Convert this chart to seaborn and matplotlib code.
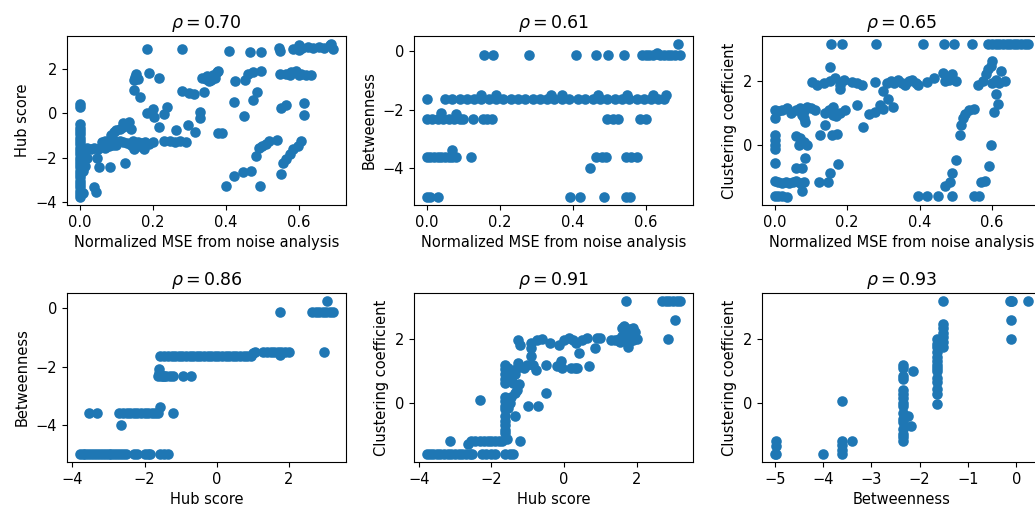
import matplotlib
matplotlib.use("Agg")
import matplotlib.pyplot as plt
from matplotlib.ticker import MultipleLocator
import seaborn as sns

# ---------------- data ----------------
mse_label = "Normalized MSE from noise analysis"
titles = ["0.70", "0.61", "0.65", "0.86", "0.91", "0.93"]

# Panel 1: MSE vs Hub score
p1_x = [0, 0, 0, 0, 0, 0, 0, 0, 0, 0, 0, 0, 0, 0, 0, 0, 0, 0, 0, 0, 0, 0, 0, 0, 0,
        0.008, 0.008, 0.01, 0.012, 0.04, 0.045, 0.02, 0.048, 0.053, 0.082, 0.015,
        0.01, 0.02, 0.03, 0.04, 0.05, 0.06, 0.07, 0.08, 0.09, 0.10,
        0.06, 0.07, 0.08, 0.09, 0.10, 0.11, 0.12,
        0.085, 0.095, 0.10, 0.11, 0.12, 0.13, 0.12, 0.135, 0.14, 0.124,
        0.13, 0.14, 0.15, 0.16, 0.17, 0.18, 0.19, 0.20, 0.16, 0.175, 0.145,
        0.148, 0.166, 0.15, 0.152, 0.155, 0.16, 0.185, 0.189, 0.216,
        0.185, 0.20, 0.205, 0.216, 0.23, 0.24,
        0.23, 0.248, 0.26, 0.275, 0.29, 0.264, 0.28,
        0.28, 0.30, 0.312, 0.34, 0.298, 0.317, 0.33, 0.33,
        0.335, 0.345, 0.35, 0.36, 0.365, 0.37, 0.375, 0.355, 0.38,
        0.38, 0.39, 0.41, 0.423, 0.425, 0.40, 0.423, 0.448, 0.47,
        0.452, 0.46, 0.475, 0.498, 0.45, 0.475, 0.486, 0.468, 0.498,
        0.482, 0.49, 0.50, 0.51, 0.52, 0.54, 0.494, 0.546, 0.548,
        0.548, 0.566, 0.58, 0.593, 0.607, 0.62, 0.634, 0.575, 0.60,
        0.553, 0.557, 0.566, 0.575, 0.585, 0.598, 0.607, 0.553, 0.566, 0.616, 0.616,
        0.585, 0.60, 0.61, 0.625, 0.64, 0.655, 0.67, 0.685, 0.695, 0.69, 0.60]
p1_y = [-3.8, -3.65, -3.5, -3.35, -3.2, -3.05, -2.9, -2.75, -2.6, -2.45, -2.3, -2.15, -2.0,
        -1.85, -1.7, -1.55, -1.4, -1.25, -1.1, -0.95, -0.8, -0.65, -0.5, 0.3, 0.42,
        -3.6, -2.6, -2.2, -1.9, -3.35, -3.55, -2.0, -2.0, -2.45, -2.45, -2.4,
        -1.6, -1.55, -1.6, -1.55, -1.6, -1.5, -1.55, -1.5, -1.45, -1.45,
        -1.3, -1.25, -1.3, -1.2, -1.3, -1.25, -1.3,
        -1.0, -0.85, -0.75, -0.7, -0.6, -0.55, -0.45, -0.4, -0.7, -2.27,
        -1.35, -1.45, -1.6, -1.5, -1.35, -1.3, -1.4, -1.3, -1.3, -1.6, -1.25,
        1.04, 0.74, 1.5, 1.65, 1.8, 1.55, 2.9, 1.82, 1.59,
        0.0, 0.2, -0.15, -0.62, -0.05, 0.3,
        -1.27, -1.27, -1.3, -1.27, -1.3, -0.74, 2.9,
        1.0, 0.9, 0.88, 0.95, -0.52, -0.85, 0.05, -0.22,
        1.6, 1.55, 1.7, 1.5, 1.75, 1.6, 1.85, 1.45, 1.9,
        -0.88, -0.88, 2.82, 0.52, 1.46, -3.27, -2.85, -2.67, -2.63,
        1.49, 1.78, 1.86, 1.93, -0.1, 0.6, 0.97, 2.78, 2.78,
        -1.93, -1.56, -1.5, -1.41, -1.26, -1.2, -3.31, 2.97, 2.82,
        1.78, 1.78, 1.86, 1.93, 1.78, 1.72, 1.72, 1.75, 1.75,
        -2.75, -2.23, -2.08, -1.86, -1.63, -1.49, -1.26, 0.22, 0.37, 0.45, -0.07,
        2.9, 3.1, 2.95, 3.0, 2.95, 3.0, 2.95, 3.1, 2.9, 3.15, 2.85]

# Panel 2: MSE vs Betweenness
p2_x = [0.156, 0.183, 0.28, 0.409, 0.463, 0.496, 0.54, 0.59, 0.60, 0.61, 0.62, 0.63, 0.64,
        0.65, 0.66, 0.67, 0.68, 0.695, 0.63, 0.69,
        0.0, 0.05, 0.07, 0.09, 0.11, 0.13, 0.15, 0.17, 0.19, 0.21, 0.23, 0.25, 0.27, 0.29,
        0.31, 0.33, 0.35, 0.37, 0.39, 0.415, 0.435, 0.455, 0.475, 0.495, 0.515, 0.535,
        0.555, 0.575, 0.595, 0.615, 0.635, 0.65,
        0.15, 0.19, 0.34, 0.37, 0.47, 0.55, 0.62, 0.655,
        0.0, 0.015, 0.03, 0.045, 0.06, 0.075, 0.09, 0.10, 0.126, 0.153, 0.165, 0.18,
        0.495, 0.51, 0.525, 0.585, 0.60, 0.04, 0.08,
        0.0, 0.01, 0.02, 0.03, 0.04, 0.05, 0.06, 0.07, 0.08, 0.07, 0.122,
        0.465, 0.48, 0.49, 0.545, 0.56, 0.575, 0.447,
        0.0, 0.008, 0.032, 0.393, 0.42, 0.487, 0.546, 0.558]
p2_y = [-0.13, -0.13, -0.13, -0.13, -0.13, -0.13, -0.13, -0.13, -0.13, -0.13, -0.13, -0.1,
        -0.13, -0.13, -0.13, -0.13, -0.13, -0.13, -0.08, 0.25,
        -1.63, -1.63, -1.63, -1.63, -1.63, -1.63, -1.63, -1.63, -1.63, -1.63, -1.63, -1.63,
        -1.63, -1.63, -1.63, -1.63, -1.63, -1.63, -1.63, -1.63, -1.63, -1.63, -1.63, -1.63,
        -1.63, -1.63, -1.63, -1.63, -1.63, -1.63, -1.63, -1.63,
        -1.5, -1.5, -1.5, -1.5, -1.5, -1.5, -1.5, -1.5,
        -2.33, -2.33, -2.33, -2.33, -2.33, -2.33, -2.33, -2.33, -2.33, -2.33, -2.33, -2.33,
        -2.33, -2.33, -2.33, -2.33, -2.33, -2.1, -2.15,
        -3.6, -3.6, -3.6, -3.6, -3.6, -3.6, -3.6, -3.6, -3.6, -3.39, -3.6,
        -3.6, -3.6, -3.6, -3.6, -3.6, -3.6, -4.0,
        -4.99, -4.99, -4.99, -4.99, -4.99, -4.99, -4.99, -4.99]

# Panel 3: MSE vs Clustering coefficient
p3_x = [0.155, 0.186, 0.279, 0.41, 0.466, 0.496, 0.544, 0.59, 0.60, 0.61, 0.62, 0.63, 0.64,
        0.65, 0.66, 0.67, 0.68, 0.69, 0.70,
        0, 0, 0, 0, 0, 0, 0, 0, 0,
        0.01, 0.02, 0.035, 0.045, 0.06, 0.07, 0.08, 0.09, 0.10, 0.11, 0.075,
        0.01, 0.02, 0.03, 0.04, 0.05, 0.06, 0.07, 0.08,
        0.01, 0.02, 0.035,
        0.058, 0.067, 0.09, 0.07, 0.08,
        0.058, 0.076, 0.085, 0.076, 0.085, 0.08,
        0.103, 0.117, 0.135, 0.154, 0.167, 0.18, 0.19, 0.18, 0.154,
        0.126, 0.14, 0.122, 0.147, 0.154, 0.175,
        0.14, 0.15, 0.16, 0.17, 0.18, 0.195, 0.16, 0.158, 0.172,
        0.213, 0.227, 0.24, 0.227, 0.245,
        0.259, 0.277, 0.29, 0.30, 0.277, 0.30, 0.313, 0.327,
        0.31, 0.32, 0.33, 0.34, 0.35, 0.36, 0.37, 0.38, 0.39,
        0.396, 0.419, 0.44, 0.464, 0.47, 0.49, 0.48, 0.50,
        0.396, 0.42, 0.45, 0.469, 0.483, 0.49, 0.50, 0.49,
        0.512, 0.515, 0.52, 0.524, 0.537, 0.551,
        0.551, 0.565, 0.57, 0.58, 0.592, 0.597,
        0.56, 0.574, 0.583, 0.597, 0.601, 0.59,
        0.60, 0.61, 0.62, 0.635, 0.624, 0.61, 0.615, 0.606]
p3_y = [3.19, 3.19, 3.19, 3.19, 3.19, 3.19, 3.19, 3.19, 3.19, 3.19, 3.19, 3.19, 3.19,
        3.19, 3.19, 3.19, 3.19, 3.19, 3.19,
        1.1, 0.83, 0.3, 0.15, 0.0, -0.15, -0.57, -1.14, -1.61,
        1.05, 1.1, 1.15, 1.0, 1.1, 1.15, 1.05, 1.2, 1.15, 1.1, 0.95,
        -1.17, -1.2, -1.17, -1.2, -1.17, -1.15, -1.2, -1.17,
        -1.61, -1.61, -1.66,
        0.26, 0.0, 0.0, 0.2, 0.1,
        -0.73, -0.73, -0.41, -1.45, 0.73, 0.85,
        1.97, 1.9, 1.95, 2.0, 2.1, 1.9, 2.05, 1.75, 2.44,
        0.31, 0.62, -1.17, -1.17, -0.88, -0.6,
        1.0, 1.1, 1.2, 0.9, 1.0, 1.1, 0.95, 0.3, 0.35,
        1.97, 1.95, 1.87, 1.24, 0.57,
        0.98, 1.04, 1.24, 1.14, 1.97, 1.71, 1.45, 1.19,
        1.95, 2.0, 1.95, 2.05, 1.95, 1.9, 2.0, 2.05, 1.95,
        1.87, 1.97, 2.12, 2.28, 2.0, 2.23, 2.05, 2.0,
        -1.61, -1.61, -1.61, -1.3, -1.19, -0.88, -0.47, -1.61,
        0.31, 0.62, 0.83, 0.98, 1.09, 1.14,
        -1.61, -1.61, -1.19, -1.14, -0.67, 0.0,
        1.87, 2.02, 2.23, 2.49, 2.64, 2.4,
        1.95, 2.05, 1.95, 2.0, 2.33, 1.6, 1.3, 1.04]

# Panel 4: Hub score vs Betweenness
p4_x = [-3.8, -3.72, -3.64, -3.56, -3.48, -3.4, -3.32, -3.24, -3.16, -3.08, -3.0, -2.92,
        -2.84, -2.76, -2.68, -2.6, -2.52, -2.3, -2.2, -2.0, -1.9, -1.85, -1.57, -1.45, -1.35,
        -3.55, -3.33, -2.7, -2.6, -2.5, -2.4, -2.3, -2.2, -2.1, -2.0, -1.9, -1.8, -1.7,
        -1.62, -1.57, -1.21, -2.65,
        -1.62, -1.55, -1.5, -1.45, -1.4, -1.3, -1.2, -0.94, -0.7, -1.6, -1.6,
        -1.57, -1.45, -1.35, -1.25, -1.15, -1.05, -0.95, -0.85, -0.75, -0.65, -0.55, -0.45,
        -0.35, -0.25, -0.15, -0.05, 0.05, 0.15, 0.25, 0.35, 0.45, 0.55, 0.65, 0.75, 0.85,
        0.95, 1.02, 1.08,
        1.3, 1.4, 1.5, 1.6, 1.7, 1.8, 1.9, 2.0, 1.75, 2.97,
        1.75, 2.65, 2.75, 2.85, 2.95, 3.05, 3.15, 3.24, 3.06]
p4_y = [-4.99, -4.99, -4.99, -4.99, -4.99, -4.99, -4.99, -4.99, -4.99, -4.99, -4.99, -4.99,
        -4.99, -4.99, -4.99, -4.99, -4.99, -4.99, -4.99, -4.99, -4.99, -4.99, -4.99, -4.99,
        -4.99,
        -3.59, -3.59, -3.59, -3.59, -3.59, -3.59, -3.59, -3.59, -3.59, -3.59, -3.59, -3.59,
        -3.59, -3.59, -3.36, -3.59, -3.99,
        -2.33, -2.33, -2.33, -2.33, -2.33, -2.33, -2.33, -2.33, -2.33, -2.07, -2.2,
        -1.62, -1.62, -1.62, -1.62, -1.62, -1.62, -1.62, -1.62, -1.62, -1.62, -1.62, -1.62,
        -1.62, -1.62, -1.62, -1.62, -1.62, -1.62, -1.62, -1.62, -1.62, -1.62, -1.62, -1.62,
        -1.62, -1.62, -1.55, -1.5,
        -1.51, -1.51, -1.51, -1.51, -1.51, -1.51, -1.51, -1.51, -1.6, -1.51,
        -0.13, -0.13, -0.13, -0.13, -0.13, -0.13, -0.13, -0.13, 0.25]

# Panel 5: Hub score vs Clustering coefficient
p5_x = [1.71, 2.7, 2.8, 2.9, 3.0, 3.1, 3.2, 3.06, 2.86,
        1.3, 1.4, 1.5, 1.6, 1.6, 1.65, 1.7, 1.75, 1.8, 1.85, 1.9, 1.95, 2.0, 1.7, 1.8, 1.55, 1.9,
        -1.26, -1.22, -0.9, -0.9, -0.75, -0.6, -0.4, -0.14, 0.0, 0.14, 0.32, 0.5, 0.63, 0.9,
        0.99, 0.86, 0.4, 0.25,
        -1.26, -1.03, -0.77, -0.5, -0.18, -0.09, 0.18, 0.36, 0.68, -0.9, -0.85, -1.1, -0.05, 0.3,
        -1.62, -1.62, -1.62, -1.62, -1.62, -1.62, -1.62, -1.62, -1.62, -1.62, -1.62, -1.62,
        -1.62, -1.62, -1.58, -1.55, -1.5, -1.45, -1.4, -1.3, -1.35, -1.45, -1.5, -1.55, -1.35,
        -1.22, -1.3, -1.35, -1.25,
        -0.5, -0.99, -0.72, -2.3, -3.15,
        -3.78, -3.7, -3.6, -3.5, -3.4, -3.3, -3.2, -3.1, -3.0, -2.9, -2.8, -2.7, -2.6, -2.52,
        -2.25, -2.15, -2.0, -1.9, -1.62, -1.5, -1.4,
        -2.65, -2.55, -2.45, -2.3, -2.2, -2.1, -2.0, -1.9, -1.8, -1.7]
p5_y = [3.19, 3.19, 3.19, 3.19, 3.19, 3.19, 3.19, 2.59, 2.0,
        1.95, 1.95, 2.0, 2.1, 2.35, 2.4, 2.2, 1.75, 2.3, 2.1, 1.95, 2.2, 2.0, 2.0, 1.9, 1.9, 2.35,
        1.97, 1.81, 1.87, 1.71, 1.95, 2.0, 1.87, 1.81, 1.95, 2.02, 1.87, 1.97, 2.02, 2.02,
        2.02, 1.71, 1.56, 1.95,
        1.25, 1.2, 1.04, 1.2, 1.14, 1.3, 1.09, 1.09, 1.14, 1.45, 1.2, 1.1, 1.1, 1.1,
        1.2, 1.05, 0.9, 0.75, 0.63, 0.2, 0.05, -0.1, -0.2, -0.4, -0.55, -0.7,
        -0.85, -0.92, -1.12, 1.1, 0.9, 0.75, 0.63, 0.42, 0.3, 0.2, 0.0, -0.15, -0.4,
        -1.18, 1.1, 0.9, 0.6,
        0.32, -0.09, -0.09, 0.09, -1.18,
        -1.6, -1.6, -1.6, -1.6, -1.6, -1.6, -1.6, -1.6, -1.6, -1.6, -1.6, -1.6, -1.6, -1.6,
        -1.6, -1.6, -1.6, -1.6, -1.6, -1.6, -1.6,
        -1.28, -1.2, -1.18, -1.18, -1.18, -1.18, -1.18, -1.18, -1.18, -1.18]

# Panel 6: Betweenness vs Clustering coefficient
p6_x = [-4.97, -4.97, -4.97, -5.0, -4.0,
        -3.6, -3.6, -3.6, -3.6, -3.6, -3.4,
        -2.35, -2.35, -2.35, -2.35, -2.35, -2.35, -2.35, -2.35, -2.35, -2.35, -2.35, -2.35,
        -2.35, -2.35, -2.35, -2.35, -2.13, -2.24, -2.17,
        -1.63, -1.63, -1.63, -1.63, -1.63, -1.63, -1.63, -1.63, -1.63, -1.63, -1.63, -1.63,
        -1.63, -1.63,
        -1.52, -1.52, -1.52, -1.52, -1.52, -1.52, -1.52,
        -0.12, -0.08, -0.1, -0.1, -0.1, 0.25]
p6_y = [-1.18, -1.33, -1.59, -1.59, -1.59,
        0.07, -1.18, -1.3, -1.45, -1.59, -1.18,
        1.18, 1.1, 0.85, 0.75, 0.4, 0.3, 0.15, 0.0, -0.1, -0.3, -0.5, -0.6, -0.8, -0.95,
        -1.05, -1.18, 0.99, -0.4, -0.72,
        -0.02, 0.3, 0.45, 0.65, 0.8, 1.0, 1.1, 1.2, 1.3, 1.45, 1.6, 1.75, 1.85, 2.0,
        1.75, 1.9, 2.05, 2.2, 2.35, 2.45, 3.19,
        3.19, 3.19, 3.19, 2.59, 1.99, 3.19]

panels = [
    (p1_x, p1_y, mse_label, "Hub score"),
    (p2_x, p2_y, mse_label, "Betweenness"),
    (p3_x, p3_y, mse_label, "Clustering coefficient"),
    (p4_x, p4_y, "Hub score", "Betweenness"),
    (p5_x, p5_y, "Hub score", "Clustering coefficient"),
    (p6_x, p6_y, "Betweenness", "Clustering coefficient"),
]
x_steps = [0.2, 0.2, 0.2, 2, 2, 1]
y_steps = [2, 2, 2, 2, 2, 2]

# ---------------- figure ----------------
plt.rcParams["font.size"] = 10.5
plt.rcParams["axes.titlesize"] = 12.5

W, H = 1035, 508
fig = plt.figure(figsize=(W / 100, H / 100), dpi=100)

col_left = [67, 414, 762]
ax_w = 279
row_top = [36, 293]
ax_h = 169

for i, (xs, ys, xl, yl) in enumerate(panels):
    r, c = divmod(i, 3)
    left = col_left[c] / W
    bottom = (H - row_top[r] - ax_h) / H
    ax = fig.add_axes([left, bottom, ax_w / W, ax_h / H])
    sns.scatterplot(x=xs, y=ys, ax=ax, s=58, color="#1f77b4", linewidth=0)
    ax.xaxis.set_major_locator(MultipleLocator(x_steps[i]))
    ax.yaxis.set_major_locator(MultipleLocator(y_steps[i]))
    ax.set_xlabel(xl)
    ax.set_ylabel(yl)
    ax.set_title(r"$\rho = " + titles[i] + "$")

fig.savefig("out.png", dpi=100)
